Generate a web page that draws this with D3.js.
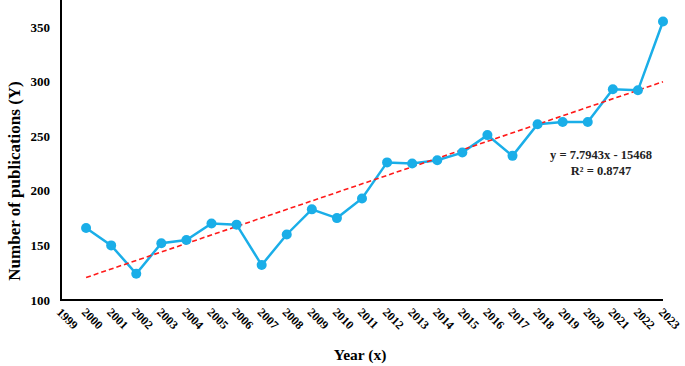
<!DOCTYPE html>
<html>
<head>
<meta charset="utf-8">
<script src="https://cdn.jsdelivr.net/npm/d3@7"></script>
<style>
  body { margin: 0; background: #fff; }
  svg { display: block; font-family: "Liberation Serif", "Times New Roman", serif; }
</style>
</head>
<body>
<div id="chart"></div>
<script>
// data
const years = [2000, 2001, 2002, 2003, 2004, 2005, 2006, 2007, 2008, 2009, 2010, 2011,
    2012, 2013, 2014, 2015, 2016, 2017, 2018, 2019, 2020, 2021, 2022, 2023]
const publications = [166, 150, 124, 152, 155, 170, 169, 132, 160, 183, 175, 193,
    226, 225, 228, 235, 251, 232, 261, 263, 263, 293, 292, 355]
const tickYears = d3.range(1999, 2024)
const yTicks = [100, 150, 200, 250, 300, 350]
// linear trend as printed on the chart
const slope = 7.7943
const intercept = -15468
const eqLabels = ["y = 7.7943x - 15468", "R² = 0.8747"]

const data = years.map((y, i) => ({ year: y, value: publications[i] }))

const width = 685, height = 366
const svg = d3.select('#chart').append('svg')
    .attr('width', width)
    .attr('height', height)

const x = d3.scaleLinear().domain([1999, 2023]).range([61, 663])
const y = d3.scaleLinear().domain([100, 350]).range([300, 27])

// axes lines (no tick marks)
svg.append('line')
    .attr('x1', x(1999)).attr('x2', x(1999))
    .attr('y1', 0).attr('y2', y(100))
    .attr('stroke', '#000').attr('stroke-width', 2)
svg.append('line')
    .attr('x1', x(1999) - 1).attr('x2', x(2023))
    .attr('y1', y(100)).attr('y2', y(100))
    .attr('stroke', '#000').attr('stroke-width', 2)

// y tick labels
svg.append('g').selectAll('text')
    .data(yTicks)
    .join('text')
    .attr('x', 50)
    .attr('y', d => y(d))
    .attr('dy', '0.35em')
    .attr('text-anchor', 'end')
    .style('font-size', '13px')
    .style('font-weight', 'bold')
    .text(d => d)

// x tick labels, rotated
svg.append('g').selectAll('text')
    .data(tickYears)
    .join('text')
    .attr('transform', d => `translate(${x(d) - 2},${y(100) + 10}) rotate(45)`)
    .attr('text-anchor', 'start')
    .attr('dy', '0.35em')
    .style('font-size', '12px')
    .style('font-weight', 'bold')
    .text(d => d)

// axis titles
svg.append('text')
    .attr('transform', 'translate(20,181) rotate(-90)')
    .attr('text-anchor', 'middle')
    .style('font-size', '17px')
    .style('font-weight', 'bold')
    .text('Number of publications (Y)')
svg.append('text')
    .attr('x', 360)
    .attr('y', 360)
    .attr('text-anchor', 'middle')
    .style('font-size', '15.5px')
    .style('font-weight', 'bold')
    .text('Year (x)')

// data line
svg.append('path')
    .datum(data)
    .attr('fill', 'none')
    .attr('stroke', '#1aaee8')
    .attr('stroke-width', 2.5)
    .attr('d', d3.line()
        .x(d => x(d.year))
        .y(d => y(d.value)))

// trend line
const trendEnds = [years[0], years[years.length - 1]]
svg.append('path')
    .datum(trendEnds)
    .attr('fill', 'none')
    .attr('stroke', '#ff1a1a')
    .attr('stroke-width', 1.6)
    .attr('stroke-dasharray', '5,3')
    .attr('d', d3.line()
        .x(d => x(d))
        .y(d => y(slope * d + intercept)))

// markers
svg.append('g').selectAll('circle')
    .data(data)
    .join('circle')
    .attr('cx', d => x(d.year))
    .attr('cy', d => y(d.value))
    .attr('r', 5)
    .attr('fill', '#1aaee8')

// equation
svg.append('g').selectAll('text')
    .data(eqLabels)
    .join('text')
    .attr('x', 601)
    .attr('y', (d, i) => 159 + i * 16)
    .attr('text-anchor', 'middle')
    .style('font-size', '12.5px')
    .style('font-weight', 'bold')
    .style('fill', '#222')
    .text(d => d)
</script>
</body>
</html>
